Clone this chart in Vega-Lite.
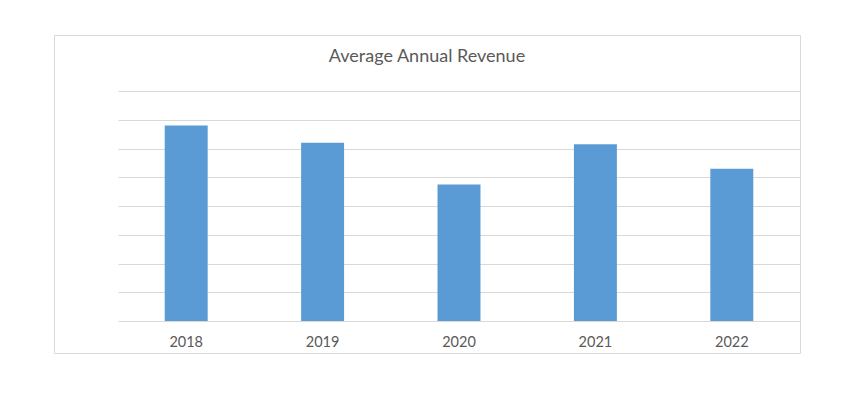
{
  "$schema": "https://vega.github.io/schema/vega-lite/v6.json",
  "autosize": "none",
  "width": 746,
  "height": 318,
  "padding": {"left": 54, "top": 35, "right": 50, "bottom": 43},
  "background": "white",
  "title": {
    "text": "Average Annual Revenue",
    "anchor": "middle",
    "frame": "group",
    "orient": "top",
    "offset": -45,
    "baseline": "alphabetic",
    "font": "Lato",
    "fontSize": 18,
    "fontWeight": "normal",
    "color": "#595959"
  },
  "data": {
    "values": [
      {"year": "2018", "revenue": 6.8},
      {"year": "2019", "revenue": 6.2},
      {"year": "2020", "revenue": 4.75},
      {"year": "2021", "revenue": 6.15},
      {"year": "2022", "revenue": 5.3}
    ]
  },
  "mark": {"type": "bar", "color": "#5B9BD5"},
  "encoding": {
    "x": {
      "field": "year",
      "type": "nominal",
      "sort": null,
      "scale": {"type": "band", "range": [64, 746], "paddingInner": 0.685, "paddingOuter": 0.3425},
      "axis": {
        "title": null,
        "domain": false,
        "ticks": false,
        "labelAngle": 0,
        "labelPadding": 14,
        "offset": -32,
        "labelFont": "Lato",
        "labelFontSize": 14.5,
        "labelColor": "#595959"
      }
    },
    "y": {
      "field": "revenue",
      "type": "quantitative",
      "scale": {"domain": [0, 8], "range": [286, 56], "nice": false, "zero": true},
      "axis": {
        "title": null,
        "labels": false,
        "domain": false,
        "ticks": false,
        "grid": true,
        "values": [0, 1, 2, 3, 4, 5, 6, 7, 8],
        "labelOverlap": false,
        "gridColor": "#d9d9d9",
        "gridWidth": 1
      }
    }
  },
  "config": {
    "view": {"stroke": "#d9d9d9", "strokeWidth": 1}
  }
}
